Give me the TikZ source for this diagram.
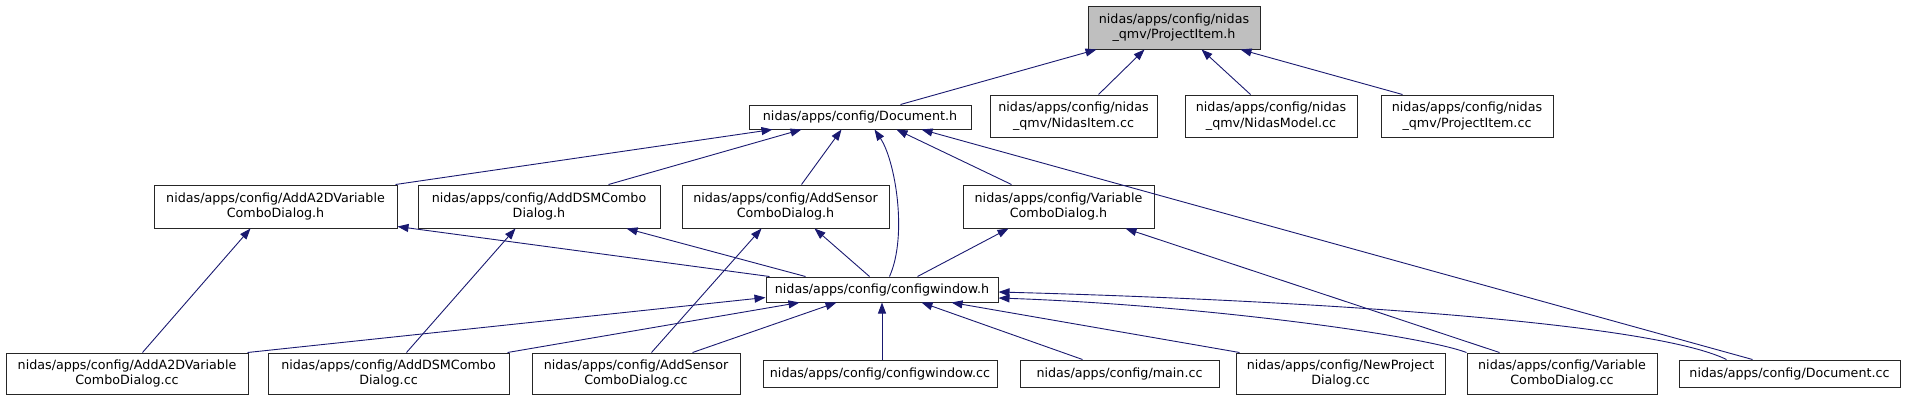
\documentclass[tikz,border=0pt]{standalone}
\usepackage{fontspec}
\setmainfont{DejaVu Sans}
\usetikzlibrary{arrows.meta}
\definecolor{edgeblue}{HTML}{191970}
\definecolor{rootgray}{HTML}{BFBFBF}

\begin{document}
\begin{tikzpicture}[x=1pt,y=-1pt,
  file/.style={draw=black!85,line width=1pt,fill=white,inner sep=0pt,align=center,
    font=\fontsize{12.7}{15.5}\selectfont},
  incl/.style={draw=edgeblue,line width=0.9pt,-{Triangle[length=11pt,width=8pt]}}]
\useasboundingbox (0,0) rectangle (1908,400);
% root
\node[file,fill=rootgray,minimum width=172pt,minimum height=43pt] (pih) at (1174,27.5) {nidas/apps/config/nidas\\\_qmv/ProjectItem.h};
% second row
\node[file,minimum width=222pt,minimum height=24pt] (doch) at (860,117) {nidas/apps/config/Document.h};
\node[file,minimum width=167pt,minimum height=42pt] (nic) at (1073.5,116) {nidas/apps/config/nidas\\\_qmv/NidasItem.cc};
\node[file,minimum width=172pt,minimum height=42pt] (nmc) at (1271,116) {nidas/apps/config/nidas\\\_qmv/NidasModel.cc};
\node[file,minimum width=172pt,minimum height=42pt] (pic) at (1467,116) {nidas/apps/config/nidas\\\_qmv/ProjectItem.cc};
% third row
\node[file,minimum width=243pt,minimum height=43pt] (a2dh) at (275.5,206.5) {nidas/apps/config/AddA2DVariable\\ComboDialog.h};
\node[file,minimum width=242pt,minimum height=43pt] (dsmh) at (539,206.5) {nidas/apps/config/AddDSMCombo\\Dialog.h};
\node[file,minimum width=207pt,minimum height=43pt] (senh) at (785.5,206.5) {nidas/apps/config/AddSensor\\ComboDialog.h};
\node[file,minimum width=191pt,minimum height=43pt] (varh) at (1058.5,206.5) {nidas/apps/config/Variable\\ComboDialog.h};
% fourth row
\node[file,minimum width=232pt,minimum height=25pt] (cwh) at (882,289.5) {nidas/apps/config/configwindow.h};
% bottom row
\node[file,minimum width=242pt,minimum height=41pt] (a2dc) at (127,373.5) {nidas/apps/config/AddA2DVariable\\ComboDialog.cc};
\node[file,minimum width=241pt,minimum height=41pt] (dsmc) at (388.5,373.5) {nidas/apps/config/AddDSMCombo\\Dialog.cc};
\node[file,minimum width=208pt,minimum height=41pt] (senc) at (636,373.5) {nidas/apps/config/AddSensor\\ComboDialog.cc};
\node[file,minimum width=234pt,minimum height=27pt] (cwc) at (880,373.5) {nidas/apps/config/configwindow.cc};
\node[file,minimum width=199pt,minimum height=27pt] (mainc) at (1119.5,373.5) {nidas/apps/config/main.cc};
\node[file,minimum width=209pt,minimum height=41pt] (npc) at (1340.5,373.5) {nidas/apps/config/NewProject\\Dialog.cc};
\node[file,minimum width=190pt,minimum height=41pt] (varc) at (1562,373.5) {nidas/apps/config/Variable\\ComboDialog.cc};
\node[file,minimum width=221pt,minimum height=27pt] (docc) at (1789.5,373.5) {nidas/apps/config/Document.cc};

% includes of ProjectItem.h
\draw[incl] ([xshift=152pt]doch.north west) -- ([xshift=9pt]pih.south west);
\draw[incl] ([xshift=109pt]nic.north west) -- ([xshift=57pt]pih.south west);
\draw[incl] ([xshift=66pt]nmc.north west) -- ([xshift=114pt]pih.south west);
\draw[incl] ([xshift=22pt]pic.north west) -- ([xshift=153pt]pih.south west);
% includes of Document.h
\draw[incl] ([xshift=-2pt]a2dh.north east) -- ([xshift=24pt]doch.south west);
\draw[incl] ([xshift=191pt]dsmh.north west) -- ([xshift=53pt]doch.south west);
\draw[incl] ([xshift=120pt]senh.north west) -- ([xshift=93pt]doch.south west);
\draw[incl] ([xshift=124pt]cwh.north west) .. controls (908,235) and (895,160) .. ([xshift=126pt]doch.south west);
\draw[incl] ([xshift=49pt]varh.north west) -- ([xshift=148pt]doch.south west);
\draw[incl] ([xshift=74pt]docc.north west) -- ([xshift=173pt]doch.south west);
% includes of the dialog headers
\draw[incl] ([xshift=137pt]a2dc.north west) -- ([xshift=97pt]a2dh.south west);
\draw[incl] ([xshift=4pt]cwh.north west) -- ([yshift=2pt]a2dh.south east);
\draw[incl] ([xshift=139pt]dsmc.north west) -- ([xshift=98pt]dsmh.south west);
\draw[incl] ([xshift=40pt]cwh.north west) -- ([xshift=209pt]dsmh.south west);
\draw[incl] ([xshift=120pt]senc.north west) -- ([xshift=80pt]senh.south west);
\draw[incl] ([xshift=104pt]cwh.north west) -- ([xshift=133pt]senh.south west);
\draw[incl] ([xshift=152pt]cwh.north west) -- ([xshift=46pt]varh.south west);
\draw[incl] ([xshift=33pt]varc.north west) -- ([xshift=163pt]varh.south west);
% includes of configwindow.h
\draw[incl] ([xshift=-1pt]a2dc.north east) -- ([yshift=-8pt]cwh.west);
\draw[incl] ([xshift=-2pt]dsmc.north east) -- ([xshift=34pt]cwh.south west);
\draw[incl] ([xshift=161pt]senc.north west) -- ([xshift=71pt]cwh.south west);
\draw[incl] ([xshift=2pt]cwc.north) -- (cwh.south);
\draw[incl] ([xshift=63pt]mainc.north west) -- ([xshift=156pt]cwh.south west);
\draw[incl] ([xshift=4pt]npc.north west) -- ([xshift=186pt]cwh.south west);
\draw[incl] (varc.north west) .. controls (1420,335) and (1200,305) .. ([yshift=-8.5pt]cwh.east);
\draw[incl] ([xshift=48pt]docc.north west) .. controls (1650,322) and (1300,300) .. ([yshift=-2.5pt]cwh.east);
\end{tikzpicture}
\end{document}
